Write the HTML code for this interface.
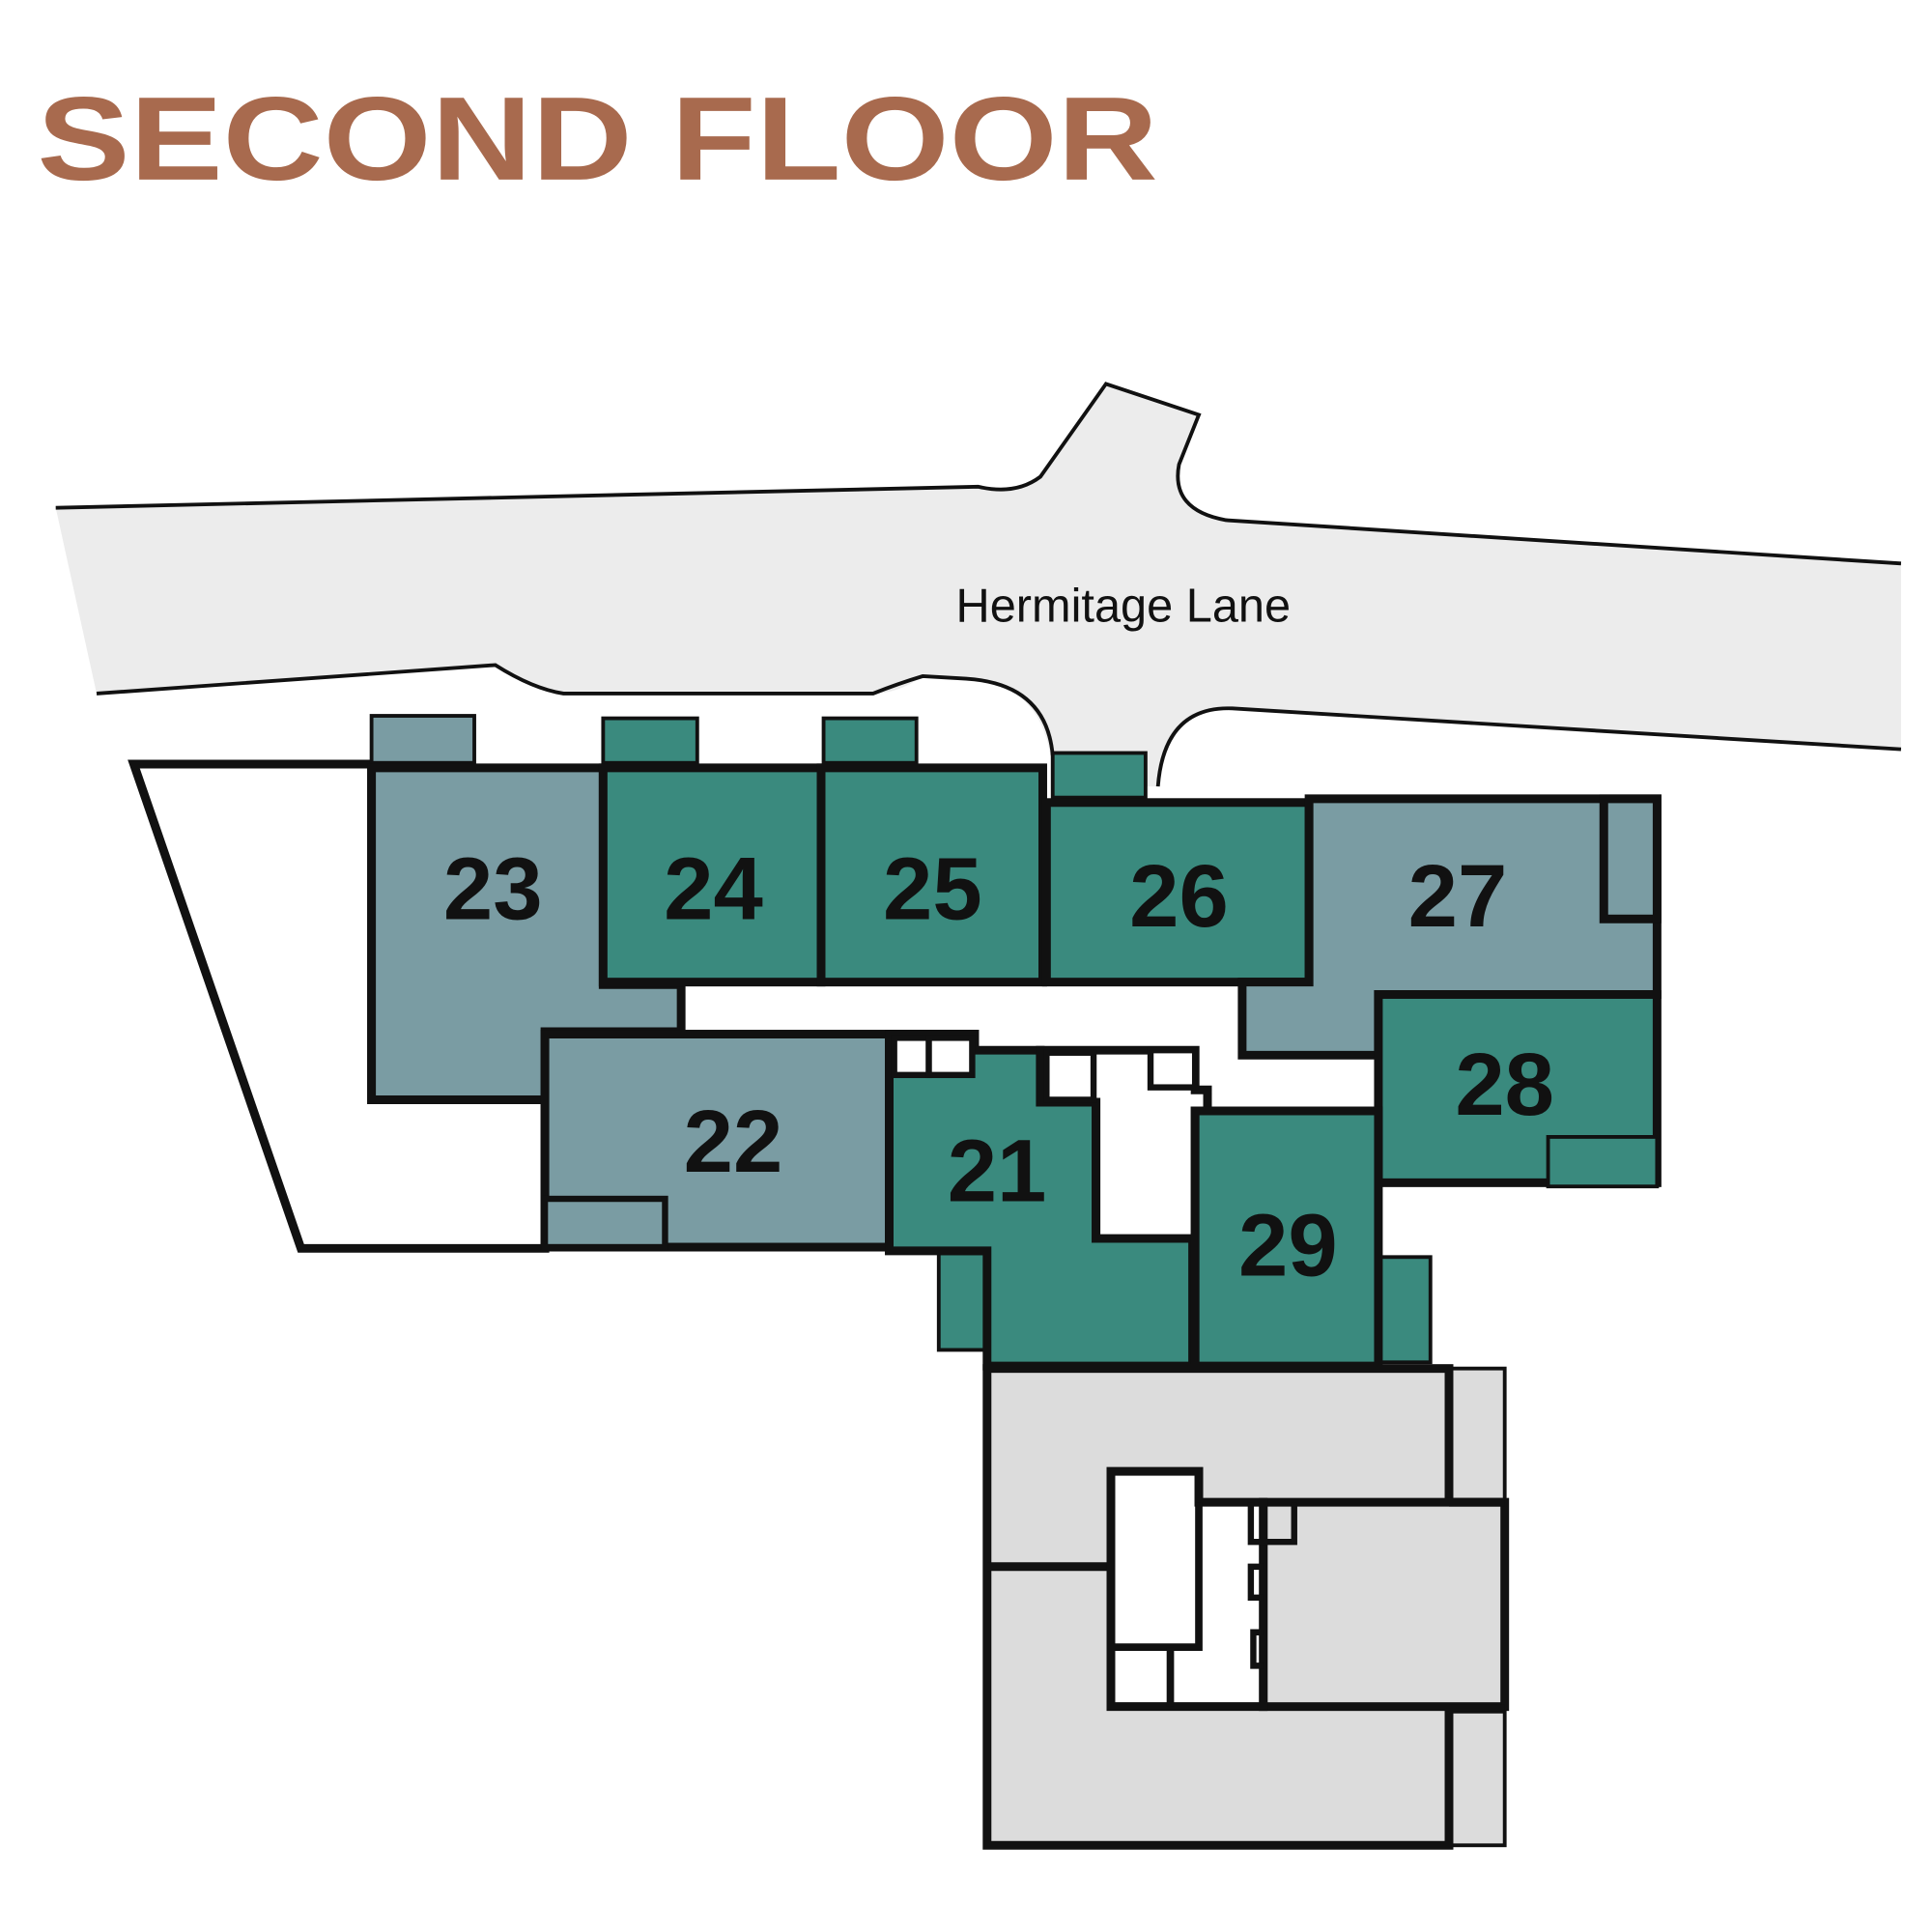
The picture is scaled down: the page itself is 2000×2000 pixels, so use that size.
<!DOCTYPE html>
<html><head><meta charset="utf-8"><style>
html,body{margin:0;padding:0;background:#fff;}
svg{display:block;}
</style></head><body>
<svg width="2000" height="2000" viewBox="0 0 1560 1560" xmlns="http://www.w3.org/2000/svg">
<rect width="1560" height="1560" fill="#fff"/>
<text x="30" y="145" font-family="Liberation Sans, sans-serif" font-weight="bold" font-size="96" fill="#a86a4e" textLength="905" lengthAdjust="spacingAndGlyphs">SECOND FLOOR</text>

<path d="M45,410 L790,393 Q820,400 840,385 L893,310 L968,335 L952,375 Q945,412 990,420 L1535,455 L1535,605 L995,572 Q940,570 935,635 L850,635 Q850,552 780,548 L745,546 Q725,560 705,560 L455,560 Q430,556 400,537 L78,560 Z" fill="#ececec"/>
<g fill="none" stroke="#111" stroke-width="3">
<path d="M45,410 L790,393 Q820,400 840,385 L893,310 L968,335 L952,375 Q945,412 990,420 L1535,455"/>
<path d="M1535,605 L995,572 Q940,570 935,635"/>
<path d="M850,610 Q845,552 780,548 L745,546 Q725,552 705,560 L455,560 Q430,556 400,537 L78,560"/>
</g>

<g stroke="#111" stroke-width="7" stroke-linejoin="miter">
<polygon points="108,617 300,617 300,888 440,888 440,1008 243,1008" fill="#fff"/>
<rect x="300" y="578" width="83" height="38" fill="#7a9ca3" stroke-width="3"/>
<rect x="487" y="580" width="76" height="36" fill="#3a8a7e" stroke-width="3"/>
<rect x="665" y="580" width="75" height="36" fill="#3a8a7e" stroke-width="3"/>
<rect x="850" y="608" width="75" height="36" fill="#3a8a7e" stroke-width="3"/>
<polygon points="300,620 487,620 487,795 550,795 550,833 440,833 440,888 300,888" fill="#7a9ca3"/>
<rect x="487" y="620" width="176" height="173" fill="#3a8a7e"/>
<rect x="663" y="620" width="179" height="173" fill="#3a8a7e"/>
<rect x="845" y="648" width="212" height="145" fill="#3a8a7e"/>
<polygon points="1057,645 1338,645 1338,803 1113,803 1113,852 1003,852 1003,793 1057,793" fill="#7a9ca3"/>
<rect x="1295" y="645" width="43" height="97" fill="#7a9ca3"/>
<rect x="1113" y="803" width="225" height="152" fill="#3a8a7e"/>
<rect x="1250" y="918" width="88" height="40" fill="#3a8a7e" stroke-width="3"/>
<rect x="440" y="835" width="278" height="172" fill="#7a9ca3"/>
<rect x="440" y="968" width="97" height="39" fill="#7a9ca3" stroke-width="5"/>
<rect x="758" y="1012" width="39" height="78" fill="#3a8a7e" stroke-width="3"/>
<polygon points="718,835 787,835 787,848 840,848 840,890 885,890 885,1000 963,1000 963,1103 797,1103 797,1010 718,1010" fill="#3a8a7e"/>
<rect x="722" y="838" width="28" height="30" fill="#fff" stroke-width="5"/>
<rect x="750" y="838" width="35" height="30" fill="#fff" stroke-width="5"/>
<polygon points="840,848 965,848 965,880 975,880 975,897 965,897 965,1000 885,1000 885,890 840,890" fill="#fff"/>
<rect x="929" y="848" width="36" height="30" fill="#fff" stroke-width="5"/>
<rect x="845" y="850" width="38" height="38" fill="#fff" stroke-width="5"/>
<rect x="1113" y="1015" width="42" height="85" fill="#3a8a7e" stroke-width="3"/>
<rect x="965" y="897" width="148" height="206" fill="#3a8a7e"/>
<rect x="1170" y="1105" width="45" height="385" fill="#dcdcdc" stroke-width="3"/>
<rect x="797" y="1105" width="373" height="385" fill="#dcdcdc"/>
<rect x="1020" y="1213" width="195" height="165" fill="#dcdcdc"/>
<line x1="797" y1="1265" x2="897" y2="1265"/>
<line x1="1170" y1="1213" x2="1215" y2="1213"/>
<line x1="1170" y1="1380" x2="1215" y2="1380"/>
<polygon points="897,1188 968,1188 968,1213 1020,1213 1020,1378 897,1378" fill="#fff"/>
<polyline points="968,1213 968,1330 897,1330" fill="none" stroke-width="6"/>
<polyline points="945,1330 945,1378" fill="none" stroke-width="6"/>
<polyline points="1010,1213 1010,1245 1045,1245 1045,1213" fill="none" stroke-width="5"/>
<polyline points="1020,1265 1010,1265 1010,1290 1020,1290" fill="none" stroke-width="5"/>
<polyline points="1020,1318 1012,1318 1012,1345 1020,1345" fill="none" stroke-width="5"/>
</g>

<g font-family="Liberation Sans, sans-serif" font-weight="bold" font-size="72" fill="#111" text-anchor="middle">
<text x="398" y="742">23</text>
<text x="576" y="742">24</text>
<text x="753" y="742">25</text>
<text x="952" y="748">26</text>
<text x="1177" y="748">27</text>
<text x="1215" y="900">28</text>
<text x="592" y="946">22</text>
<text x="805" y="970">21</text>
<text x="1040" y="1030">29</text>
</g>
<text x="907" y="502" font-family="Liberation Sans, sans-serif" font-size="38" fill="#111" text-anchor="middle">Hermitage Lane</text>
</svg>
</body></html>
